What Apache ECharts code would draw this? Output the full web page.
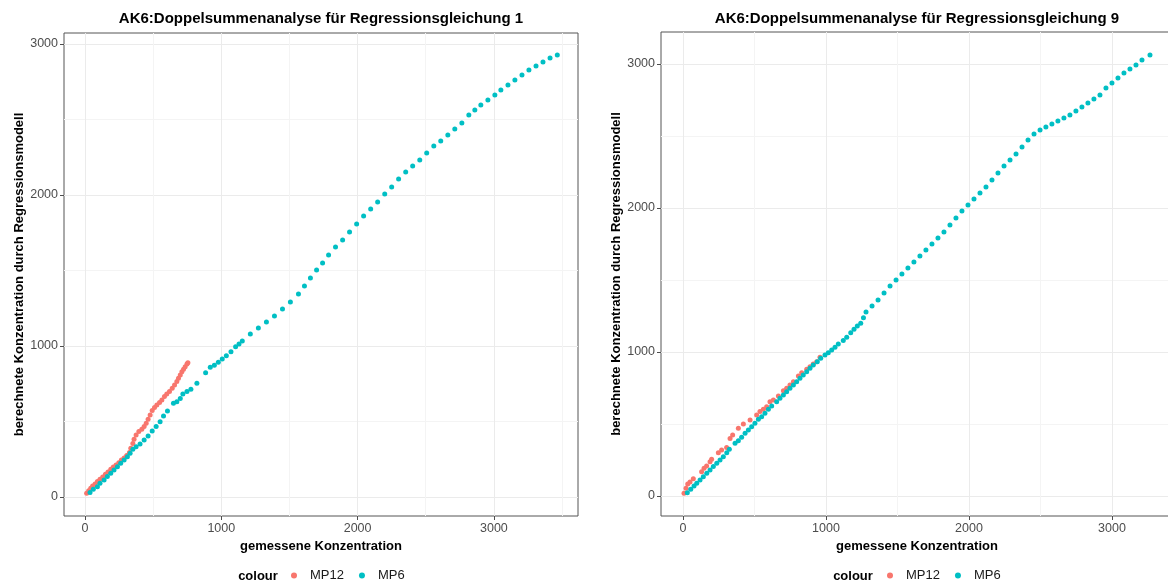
<!DOCTYPE html>
<html><head><meta charset="utf-8">
<script src="https://cdn.jsdelivr.net/npm/echarts@6/dist/echarts.min.js"></script>
<style>html,body{margin:0;padding:0;background:#fff}#c{width:1168px;height:588px}</style>
</head><body><div id="c"></div>
<script>
// ---------- data ----------
const titles = ['AK6:Doppelsummenanalyse für Regressionsgleichung 1','AK6:Doppelsummenanalyse für Regressionsgleichung 9'];
const xAxisTitle = 'gemessene Konzentration';
const yAxisTitle = 'berechnete Konzentration durch Regressionsmodell';
const seriesNames = ['MP12','MP6'];
const majorTicks = [0,1000,2000,3000];
const minorTicksLeftX = [500,1500,2500,3500];
const minorTicksY = [500,1500,2500];
const minorTicksRightX = [500,1500,2500];

// Regressionsgleichung 1
const eq1_MP12 = [[12,24],[27,42],[42,57],[56,73],[74,86],[91,102],[110,117],[130,132],[150,150],[169,166],[189,183],[208,199],[228,212],[248,227],[267,245],[287,258],[306,274],[326,294],[336,322],[351,355],[360,382],[375,411],[395,433],[417,448],[434,466],[449,488],[463,514],[478,543],[493,572],[510,592],[527,609],[547,625],[564,642],[583,665],[600,682],[620,698],[640,720],[657,742],[674,764],[686,786],[699,808],[711,830],[723,846],[735,863],[748,881],[755,889]];
const eq1_MP6 = [[37,29],[61,51],[91,68],[110,91],[140,113],[164,135],[189,157],[213,179],[238,201],[262,223],[287,245],[311,267],[331,289],[351,316],[375,333],[404,351],[434,377],[463,404],[493,437],[522,466],[551,499],[576,536],[605,570],[649,620],[674,631],[699,653],[718,682],[748,698],[777,713],[821,753],[885,823],[919,859],[949,872],[978,892],[1007,914],[1037,936],[1071,962],[1105,995],[1130,1013],[1154,1033],[1213,1079],[1272,1119],[1331,1159],[1390,1199],[1449,1245],[1507,1291],[1566,1344],[1610,1397],[1654,1450],[1699,1503],[1743,1550],[1787,1603],[1838,1656],[1890,1702],[1941,1755],[1993,1808],[2044,1861],[2096,1907],[2147,1954],[2199,2007],[2250,2053],[2301,2106],[2353,2152],[2404,2192],[2456,2232],[2507,2278],[2559,2325],[2610,2358],[2662,2397],[2713,2437],[2765,2477],[2816,2530],[2860,2563],[2904,2596],[2956,2629],[3007,2662],[3051,2695],[3103,2728],[3154,2762],[3206,2795],[3257,2828],[3309,2854],[3360,2881],[3412,2907],[3465,2927]];

// Regressionsgleichung 9
const eq9_MP12 = [[7,19],[21,53],[33,83],[49,97],[72,120],[130,169],[147,192],[165,208],[189,238],[200,255],[247,301],[270,319],[305,336],[329,400],[347,424],[387,470],[422,500],[469,528],[515,563],[538,586],[562,602],[585,620],[608,655],[632,667],[667,694],[702,731],[725,748],[748,771],[772,794],[807,833],[830,856],[865,880],[888,898],[911,917],[935,933],[958,963]];
const eq9_MP6 = [[30,23],[54,46],[77,69],[96,88],[119,111],[142,134],[166,157],[189,181],[212,204],[236,227],[259,250],[282,273],[306,301],[324,324],[364,366],[387,384],[410,407],[434,435],[457,458],[480,481],[503,505],[527,532],[550,551],[573,574],[597,602],[620,625],[655,655],[678,678],[702,701],[725,724],[748,748],[772,771],[795,794],[818,817],[841,840],[865,863],[888,887],[911,910],[939,933],[963,956],[993,979],[1016,995],[1040,1014],[1063,1033],[1086,1056],[1121,1079],[1145,1102],[1173,1134],[1196,1157],[1219,1181],[1243,1199],[1262,1238],[1280,1278],[1322,1319],[1364,1361],[1406,1410],[1448,1458],[1490,1500],[1531,1542],[1573,1583],[1615,1625],[1657,1667],[1699,1708],[1741,1750],[1783,1792],[1825,1833],[1867,1882],[1909,1931],[1951,1979],[1993,2021],[2035,2063],[2077,2104],[2119,2146],[2161,2194],[2203,2243],[2245,2292],[2287,2333],[2329,2375],[2371,2424],[2413,2472],[2455,2514],[2497,2542],[2538,2563],[2580,2583],[2622,2604],[2664,2625],[2706,2646],[2748,2674],[2790,2701],[2832,2729],[2874,2757],[2916,2785],[2958,2833],[3000,2868],[3042,2903],[3084,2938],[3126,2965],[3168,2993],[3210,3028],[3266,3063]];

// ---------- chart ----------
const FONT = '"Liberation Sans", Arial, sans-serif';
const COLORS = {MP12:'#F8766D', MP6:'#00BFC4'};
const chart = echarts.init(document.getElementById('c'), null, {renderer:'canvas'});

const grids = [
  {left:64, top:33, width:514, height:483},
  {left:661, top:32, width:512, height:484}
];
const ranges = [
  {x:[-154,3617], y:[-126,3073], minorX:minorTicksLeftX},
  {x:[-154,3427], y:[-139,3222], minorX:minorTicksRightX}
];
const plain = v => String(v);

const xAxes = [], yAxes = [];
grids.forEach((g,i)=>{
  const r = ranges[i];
  xAxes.push({type:'value', gridIndex:i, min:r.x[0], max:r.x[1], position:'bottom',
    name:xAxisTitle, nameLocation:'middle', nameGap:19,
    nameTextStyle:{fontFamily:FONT, fontWeight:'bold', fontSize:13, color:'#000'},
    axisLine:{show:false, onZero:false},
    axisTick:{show:true, inside:false, customValues:majorTicks, length:4, lineStyle:{color:'#4D4D4D', width:1}},
    axisLabel:{show:true, customValues:majorTicks, formatter:plain, color:'#4D4D4D', fontSize:12.5, fontFamily:FONT, margin:6},
    splitLine:{show:true, lineStyle:{color:'#EBEBEB', width:1}}
  });
  xAxes.push({type:'value', gridIndex:i, min:r.x[0], max:r.x[1], position:'bottom',
    axisLine:{show:false, onZero:false}, axisTick:{show:false, customValues:r.minorX},
    axisLabel:{show:false, customValues:r.minorX},
    splitLine:{show:true, lineStyle:{color:'#F4F4F4', width:1}}
  });
  yAxes.push({type:'value', gridIndex:i, min:r.y[0], max:r.y[1], position:'left',
    name:yAxisTitle, nameLocation:'middle', nameGap:31,
    nameTextStyle:{fontFamily:FONT, fontWeight:'bold', fontSize:13, color:'#000'},
    axisLine:{show:false, onZero:false},
    axisTick:{show:true, inside:false, customValues:majorTicks, length:4, lineStyle:{color:'#4D4D4D', width:1}},
    axisLabel:{show:true, customValues:majorTicks, formatter:plain, color:'#4D4D4D', fontSize:12.5, fontFamily:FONT, margin:6},
    splitLine:{show:true, lineStyle:{color:'#EBEBEB', width:1}}
  });
  yAxes.push({type:'value', gridIndex:i, min:r.y[0], max:r.y[1], position:'left',
    axisLine:{show:false, onZero:false}, axisTick:{show:false, customValues:minorTicksY},
    axisLabel:{show:false, customValues:minorTicksY},
    splitLine:{show:true, lineStyle:{color:'#F4F4F4', width:1}}
  });
});

function sc(name, data, gi){
  return {type:'scatter', name:name, data:data, xAxisIndex:gi*2, yAxisIndex:gi*2,
    symbol:'circle', symbolSize:5, itemStyle:{color:COLORS[name], opacity:1},
    emphasis:{disabled:true}, silent:true, z:3};
}

const legendBase = {orient:'horizontal', icon:'circle', itemWidth:22, itemHeight:6, itemGap:15,
  padding:0, selectedMode:false, data:seriesNames,
  textStyle:{fontFamily:FONT, fontSize:13, color:'#1A1A1A'}};

chart.setOption({
  animation:false,
  backgroundColor:'#fff',
  grid: grids.map(g=>Object.assign({show:true, backgroundColor:'#fff', borderColor:'#555', borderWidth:1, containLabel:false, outerBoundsMode:'none'}, g)),
  xAxis: xAxes,
  yAxis: yAxes,
  legend: [
    Object.assign({left:291, top:569}, legendBase),
    Object.assign({left:887, top:569}, legendBase)
  ],
  graphic: [
    {type:'text', x:321, y:19, style:{text:titles[0], font:'bold 15px '+FONT, fill:'#000', align:'center', verticalAlign:'middle'}},
    {type:'text', x:917, y:19, style:{text:titles[1], font:'bold 15px '+FONT, fill:'#000', align:'center', verticalAlign:'middle'}},
    {type:'text', x:258, y:576, style:{text:'colour', font:'bold 13px '+FONT, fill:'#000', align:'center', verticalAlign:'middle'}},
    {type:'text', x:853, y:576, style:{text:'colour', font:'bold 13px '+FONT, fill:'#000', align:'center', verticalAlign:'middle'}}
  ],
  series: [
    sc('MP12', eq1_MP12, 0), sc('MP6', eq1_MP6, 0),
    sc('MP12', eq9_MP12, 1), sc('MP6', eq9_MP6, 1)
  ]
});
</script></body></html>
